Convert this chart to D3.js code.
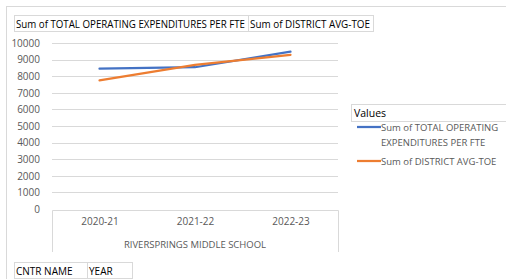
<!DOCTYPE html>
<html>
<head>
<meta charset="utf-8">
<script src="https://cdn.jsdelivr.net/npm/d3@7"></script>
<style>
body { margin: 0; background: #fff; }
svg text { font-family: "Open Sans", "Noto Sans", sans-serif; }
</style>
</head>
<body>
<svg id="chart" width="506" height="279"></svg>
<script>
// data
var years = ["2020-21", "2021-22", "2022-23"];
var totalOpExp = [8450, 8540, 9480];
var districtAvg = [7750, 8680, 9280];
var yTicks = [0, 1000, 2000, 3000, 4000, 5000, 6000, 7000, 8000, 9000, 10000];
var seriesNames = ["Sum of TOTAL OPERATING EXPENDITURES PER FTE", "Sum of DISTRICT AVG-TOE"];
var colors = ["#4472C4", "#ED7D31"];

var svg = d3.select("#chart");

// outer chart frame
svg.append("rect")
    .attr("x", 6.5).attr("y", 6.5)
    .attr("width", 520).attr("height", 300)
    .attr("fill", "none").attr("stroke", "#d9d9d9");

// pivot field buttons at top
var btns = [
    {label: seriesNames[0], x: 14, w: 234},
    {label: seriesNames[1], x: 248, w: 125}
];
btns.forEach(function(b) {
    svg.append("rect")
        .attr("x", b.x + 0.5).attr("y", 15.5)
        .attr("width", b.w).attr("height", 16)
        .attr("fill", "#fff").attr("stroke", "#d9d9d9");
    svg.append("text")
        .attr("x", b.x + 2).attr("y", 27.5)
        .attr("font-size", "10px").attr("fill", "#000")
        .attr("textLength", b.w - 5).attr("lengthAdjust", "spacingAndGlyphs")
        .text(b.label);
});

var x = d3.scalePoint().domain(years).range([99.5, 290.5]);
var y = d3.scaleLinear().domain([0, 10000]).range([209, 43]);

// gridlines
svg.append("g")
    .selectAll("line")
    .data(yTicks.filter(function(d) { return d > 0; }))
    .enter().append("line")
    .attr("x1", 52).attr("x2", 338)
    .attr("y1", function(d) { return Math.round(y(d)) + 0.5; })
    .attr("y2", function(d) { return Math.round(y(d)) + 0.5; })
    .attr("stroke", "#d9d9d9");

// y axis labels
var yAxis = d3.axisLeft(y).tickValues(yTicks).tickFormat(d3.format("d")).tickSize(0).tickPadding(0);
var ya = svg.append("g").attr("transform", "translate(40,0)").call(yAxis);
ya.select(".domain").remove();
ya.selectAll("text")
    .attr("font-family", "'Open Sans', sans-serif")
    .attr("font-size", "10px").attr("fill", "#595959");

// category axis box
svg.append("path")
    .attr("d", "M52.5,252V210.5H338.5V252")
    .attr("fill", "none").attr("stroke", "#d9d9d9");

var xAxis = d3.axisBottom(x).tickSize(0).tickPadding(0);
var xa = svg.append("g").attr("transform", "translate(0,218)").call(xAxis);
xa.select(".domain").remove();
xa.selectAll("text")
    .attr("font-family", "'Open Sans', sans-serif")
    .attr("font-size", "10px").attr("fill", "#595959");

svg.append("text")
    .attr("x", 195).attr("y", 248)
    .attr("text-anchor", "middle")
    .attr("font-size", "9.5px").attr("fill", "#595959")
    .text("RIVERSPRINGS MIDDLE SCHOOL");

// lines
var line = d3.line()
    .x(function(d, i) { return x(years[i]); })
    .y(function(d) { return y(d); });

[totalOpExp, districtAvg].forEach(function(s, i) {
    svg.append("path")
        .datum(s)
        .attr("d", line)
        .attr("fill", "none")
        .attr("stroke", colors[i])
        .attr("stroke-width", 2.25)
        .attr("stroke-linecap", "round");
});

// legend
svg.append("rect")
    .attr("x", 351.5).attr("y", 104.5)
    .attr("width", 160).attr("height", 17)
    .attr("fill", "#fff").attr("stroke", "#d9d9d9");
svg.append("text")
    .attr("x", 354).attr("y", 117)
    .attr("font-size", "10.5px").attr("fill", "#000")
    .text("Values");

var legendRows = [
    {lines: ["Sum of TOTAL OPERATING", "EXPENDITURES PER FTE"], y: 127},
    {lines: ["Sum of DISTRICT AVG-TOE"], y: 161}
];
legendRows.forEach(function(r, i) {
    svg.append("line")
        .attr("x1", 357).attr("x2", 381)
        .attr("y1", r.y).attr("y2", r.y)
        .attr("stroke", colors[i]).attr("stroke-width", 2.25);
    r.lines.forEach(function(t, j) {
        svg.append("text")
            .attr("x", 381).attr("y", r.y + 3.5 + j * 15)
            .attr("font-size", "9.5px").attr("fill", "#595959")
            .text(t);
    });
});

// bottom field buttons
var rowBtns = [
    {label: "CNTR NAME", x: 14, w: 73},
    {label: "YEAR", x: 87, w: 45}
];
rowBtns.forEach(function(b) {
    svg.append("rect")
        .attr("x", b.x + 0.5).attr("y", 262.5)
        .attr("width", b.w).attr("height", 16)
        .attr("fill", "#fff").attr("stroke", "#d9d9d9");
    svg.append("text")
        .attr("x", b.x + 2).attr("y", 274.5)
        .attr("font-size", "10px").attr("fill", "#000")
        .text(b.label);
});
</script>
</body>
</html>
